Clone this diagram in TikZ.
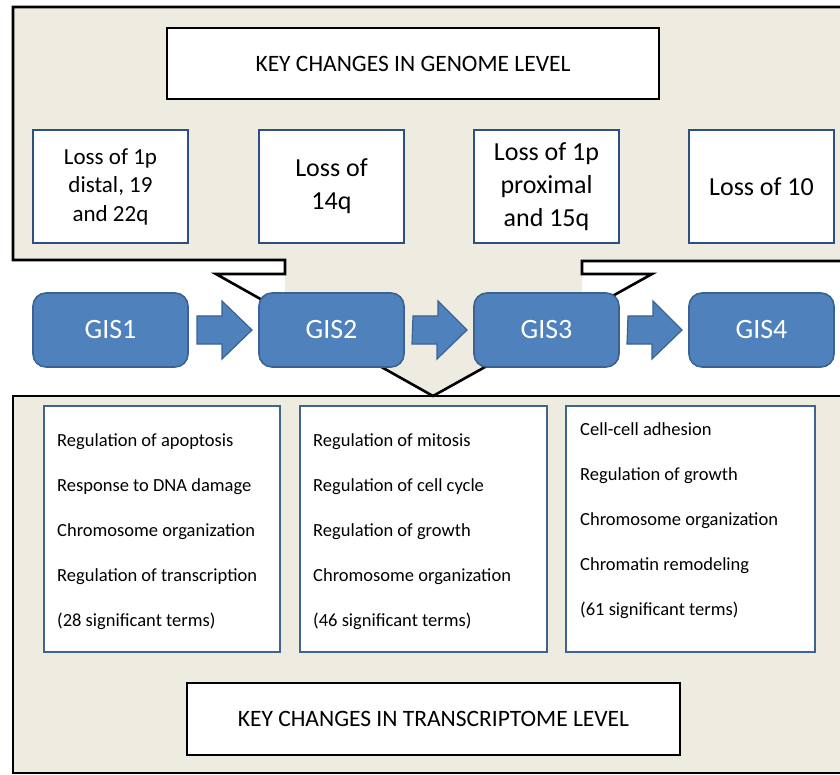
\documentclass[tikz,border=0pt]{standalone}
\usepackage{fontspec}
\setmainfont{Carlito}
\usepackage{xcolor}
\usepackage{tikz}
\usetikzlibrary{positioning}

\definecolor{calloutfill}{HTML}{EEECE1}
\definecolor{gisfill}{HTML}{4F81BD}
\definecolor{gisline}{HTML}{3A6391}
\definecolor{lossline}{HTML}{2B5084}
\definecolor{termline}{HTML}{3F6393}

\begin{document}
\begin{tikzpicture}[
    x=1pt, y=-1pt,
    outline/.style={draw=black, line width=2.6pt},
    title/.style={rectangle, draw=black, line width=2.6pt, fill=white, minimum width=492pt, minimum height=71pt, font=\fontsize{23.5}{28}\selectfont},
    loss/.style={rectangle, draw=lossline, line width=2.6pt, fill=white, minimum width=145pt, minimum height=113pt, outer sep=0pt, align=center, font=\fontsize{26}{33}\selectfont},
    gis/.style={rectangle, rounded corners=13pt, draw=gisline, line width=1.6pt, fill=gisfill, text=white, minimum width=145pt, minimum height=74pt, outer sep=0pt, font=\fontsize{28}{34}\selectfont},
    terms/.style={rectangle, draw=termline, line width=2.2pt, fill=white, minimum height=246pt, outer sep=0pt},
    termlist/.style={anchor=west, align=left, inner sep=0pt, font=\fontsize{18.5}{45}\selectfont},
    blockarrow/.style={draw=gisline, line width=1.2pt, fill=gisfill,
        to path={([xshift=9pt]\tikztostart.east) ++(0,-14) -- ++(25,0) -- ++(0,-15) -- ([xshift=-7pt]\tikztotarget.west) -- ++(-30,29) -- ++(0,-15) -- ++(-25,0) -- cycle}}
]
\useasboundingbox (0,0) rectangle (840,775);
\clip (0,0) rectangle (840,775);

% Callouts
\draw[outline, fill=calloutfill] (13,396) rectangle (850,773);
\coordinate (tip) at (433,396);
\fill[calloutfill] (13,7) -- (850,7) -- (850,261) -- (582,261) -- (582,313) -- (tip) -- (285,313) -- (285,260) -- (13,260) -- cycle;
\draw[outline] (850,7) -- (13,7) -- (13,260) -- (285,260) -- (285,274) -- (216,274) -- (tip) -- (652,274) -- (582,274) -- (582,261) -- (850,261);

% Genome level
\node[title] (genome) at (413,63.5) {KEY CHANGES IN GENOME LEVEL};
\node[loss, minimum width=155pt, font=\fontsize{23}{28.5}\selectfont] (loss1) at (110.5,186.5) {Loss of 1p\\distal, 19\\and 22q};
\node[loss, right=71pt of loss1] (loss2) {Loss of\\14q};
\node[loss, right=70pt of loss2] (loss3) {Loss of 1p\\proximal\\and 15q};
\node[loss, right=70pt of loss3] (loss4) {Loss of 10};

% Stages
\node[gis, minimum width=155pt, below=50pt of loss1] (gis1) {GIS1};
\node[gis, below=50pt of loss2] (gis2) {GIS2};
\node[gis, below=50pt of loss3] (gis3) {GIS3};
\node[gis, below=50pt of loss4] (gis4) {GIS4};

% Arrows
\draw[blockarrow] (gis1) to (gis2);
\draw[blockarrow] (gis2) to (gis3);
\draw[blockarrow] (gis3) to (gis4);

% Transcriptome level
\node[terms, minimum width=236pt] (terms1) at (162,529) {};
\node[terms, minimum width=247pt] (terms2) at (423.5,529) {};
\node[terms, minimum width=249pt] (terms3) at (690.5,529) {};
\node[termlist] (list1) at ([xshift=13pt,yshift=-3pt]terms1.west) {Regulation of apoptosis\\Response to DNA damage\\Chromosome organization\\Regulation of transcription\\(28 significant terms)};
\node[termlist] (list2) at ([xshift=13pt,yshift=-3pt]terms2.west) {Regulation of mitosis\\Regulation of cell cycle\\Regulation of growth\\Chromosome organization\\(46 significant terms)};
\node[termlist] (list3) at ([xshift=14pt,yshift=8pt]terms3.west) {Cell-cell adhesion\\Regulation of growth\\Chromosome organization\\Chromatin remodeling\\(61 significant terms)};
\node[title, minimum width=493pt, minimum height=72pt] (transcriptome) at (433.5,719) {KEY CHANGES IN TRANSCRIPTOME LEVEL};

\end{tikzpicture}
\end{document}
